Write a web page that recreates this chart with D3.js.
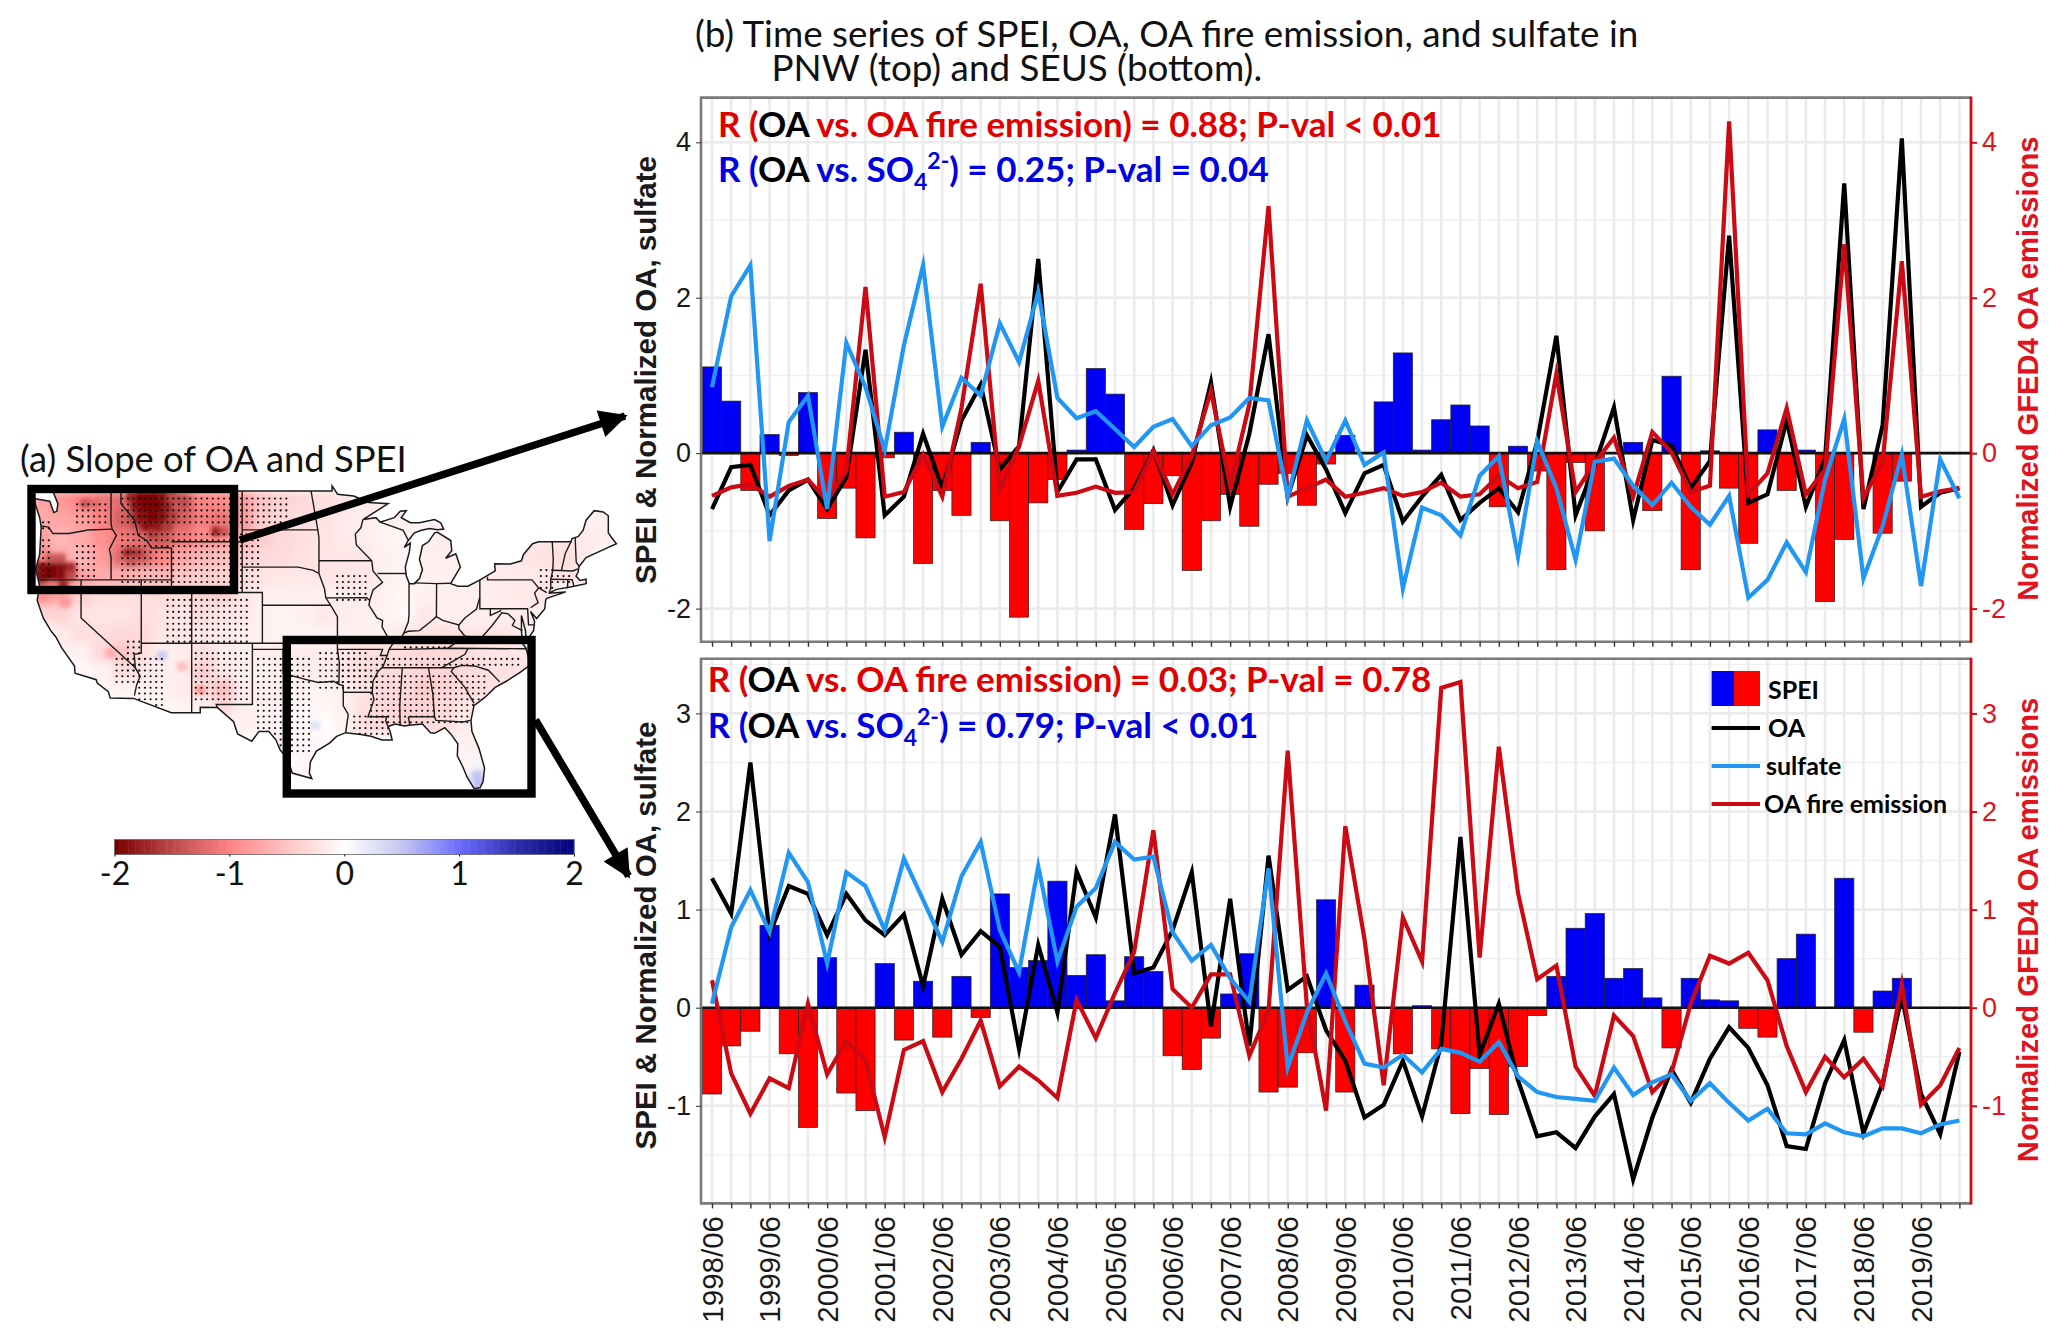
<!DOCTYPE html>
<html>
<head>
<meta charset="utf-8">
<script src="https://cdn.jsdelivr.net/npm/d3@7"></script>
<style>
	html, body { margin: 0; padding: 0; background: #fff; }
	svg { display: block; }
	.calibri { font-family: Lato, 'Open Sans', sans-serif; }
	.arial { font-family: 'Liberation Sans', Arial, sans-serif; }
</style>
</head>
<body>
<svg id="chart" width="2067" height="1336"></svg>
<script>
const yearLabels = ['1998/06', '1999/06', '2000/06', '2001/06', '2002/06', '2003/06', '2004/06', '2005/06', '2006/06', '2007/06', '2008/06', '2009/06', '2010/06', '2011/06', '2012/06', '2013/06', '2014/06', '2015/06', '2016/06', '2017/06', '2018/06', '2019/06'];

// Pacific Northwest panel
const pnwSpei = [1.11, 0.67, -0.48, 0.24, -0.03, 0.78, -0.84, -0.45, -1.09, -0.06, 0.27, -1.42, -0.48, -0.8, 0.14, -0.87, -2.11, -0.64, -0.34, 0.04, 1.09, 0.76, -0.98, -0.65, -0.29, -1.51, -0.87, -0.53, -0.94, -0.4, -0.26, -0.67, -0.14, 0.23, 0, 0.66, 1.29, 0.04, 0.43, 0.62, 0.35, -0.69, 0.09, -0.23, -1.5, -0.12, -1, 0, 0.14, -0.74, 0.99, -1.5, 0.03, -0.45, -1.16, 0.3, -0.48, 0.04, -1.91, -1.11, 0, -1.03, -0.36, 0, 0, 0];
const pnwOa = [-0.72, -0.18, -0.15, -0.8, -0.48, -0.34, -0.72, -0.31, 1.33, -0.8, -0.56, 0.25, -0.45, 0.42, 0.88, -0.21, 0.09, 2.5, -0.5, -0.08, -0.08, -0.73, -0.45, 0.04, -0.67, -0.12, 0.91, -0.69, 0.25, 1.53, -0.56, 0.23, -0.21, -0.77, -0.26, -0.15, -0.88, -0.56, -0.28, -0.86, -0.64, -0.45, -0.76, 0.15, 1.51, -0.8, -0.15, 0.59, -0.86, 0.17, 0.1, -0.45, -0.1, 2.8, -0.64, -0.53, 0.42, -0.69, -0.07, 3.47, -0.72, 0.36, 4.05, -0.69, -0.51, -0.45];
const pnwFire = [-0.55, -0.44, -0.4, -0.56, -0.42, -0.34, -0.61, -0.23, 2.14, -0.56, -0.5, -0.02, -0.56, 0.58, 2.18, -0.48, 0.09, 0.93, -0.55, -0.51, -0.43, -0.51, -0.5, 0.03, -0.53, -0.04, 0.8, -0.42, 0.63, 3.18, -0.56, -0.45, -0.34, -0.56, -0.51, -0.45, -0.55, -0.5, -0.38, -0.56, -0.53, -0.29, -0.45, -0.37, 1.02, -0.5, -0.12, 0.2, -0.56, 0.27, 0.01, -0.5, -0.42, 4.27, -0.53, -0.26, 0.58, -0.53, -0.21, 2.69, -0.58, -0.12, 2.47, -0.56, -0.49, -0.45];
const pnwSulfate = [0.85, 2.02, 2.42, -1.13, 0.4, 0.74, -0.72, 1.42, 0.85, 0.04, 1.39, 2.42, 0.34, 0.97, 0.74, 1.67, 1.17, 2.07, 0.71, 0.45, 0.54, 0.31, 0.08, 0.34, 0.44, 0.09, 0.36, 0.46, 0.71, 0.68, -0.56, 0.42, -0.1, 0.42, -0.15, 0.01, -1.74, -0.7, -0.8, -1.06, -0.29, -0.04, -1.33, 0.15, -0.45, -1.37, -0.11, -0.07, -0.42, -0.67, -0.38, -0.69, -0.92, -0.55, -1.86, -1.63, -1.15, -1.53, -0.34, 0.44, -1.61, -0.94, -0.02, -1.71, -0.08, -0.58];

// Southeast US panel
const seusSpei = [-0.88, -0.39, -0.24, 0.84, -0.47, -1.22, 0.51, -0.87, -1.05, 0.45, -0.33, 0.27, -0.3, 0.32, -0.1, 1.16, 0.41, 0.48, 1.29, 0.33, 0.54, 0.07, 0.52, 0.37, -0.49, -0.63, -0.31, 0.14, 0.55, -0.86, -0.81, -0.46, 1.1, -0.86, 0.23, 0, -0.47, 0.02, -0.42, -1.08, -0.62, -1.09, -0.6, -0.08, 0.32, 0.81, 0.96, 0.3, 0.4, 0.1, -0.41, 0.3, 0.08, 0.07, -0.21, -0.3, 0.5, 0.75, 0, 1.32, -0.25, 0.17, 0.3, 0, 0, 0];
const seusOa = [1.32, 0.96, 2.5, 0.75, 1.24, 1.16, 0.74, 1.16, 0.89, 0.74, 0.95, 0.22, 1.11, 0.54, 0.78, 0.62, -0.42, 0.64, -0.05, 1.39, 0.92, 1.97, 0.35, 0.41, 0.79, 1.38, -0.19, 1.11, -0.39, 1.55, 0.18, 0.32, -0.23, -0.54, -1.12, -0.99, -0.54, -1.11, -0.37, 1.74, -0.48, 0.04, -0.74, -1.31, -1.27, -1.43, -1.11, -0.88, -1.75, -1.12, -0.63, -0.97, -0.52, -0.2, -0.41, -0.79, -1.41, -1.44, -0.77, -0.33, -1.28, -0.77, 0.12, -0.88, -1.29, -0.45];
const seusFire = [0.28, -0.67, -1.08, -0.72, -0.82, 0.04, -0.68, -0.34, -0.54, -1.32, -0.43, -0.34, -0.86, -0.52, -0.13, -0.8, -0.6, -0.74, -0.92, 0.08, -0.31, 0.15, 0.57, 1.81, 0.19, 0, 0.34, 0.34, -0.49, -0.03, 2.62, 0.01, -1.05, 1.85, 0.7, -0.79, 0.92, 0.47, 3.26, 3.32, 0.51, 2.66, 1.17, 0.29, 0.43, -0.6, -0.9, -0.08, -0.29, -0.86, -0.66, 0.04, 0.53, 0.45, 0.56, 0.28, -0.39, -0.86, -0.5, -0.71, -0.52, -0.8, 0.24, -0.99, -0.79, -0.41];
const seusSulfate = [0.04, 0.82, 1.2, 0.77, 1.58, 1.28, 0.45, 1.38, 1.24, 0.79, 1.52, 1.1, 0.67, 1.34, 1.69, 0.79, 0.36, 1.44, 0.47, 1.03, 1.22, 1.69, 1.51, 1.54, 0.77, 0.48, 0.64, 0.3, 0.06, 1.42, -0.61, -0.05, 0.35, -0.14, -0.57, -0.61, -0.48, -0.66, -0.42, -0.46, -0.55, -0.35, -0.7, -0.86, -0.91, -0.93, -0.95, -0.61, -0.89, -0.76, -0.68, -0.95, -0.77, -0.97, -1.15, -1.03, -1.28, -1.29, -1.18, -1.27, -1.31, -1.23, -1.23, -1.28, -1.19, -1.15];

// Map: slope on a coarse lon/lat grid, north to south, west to east
const slopeLons = d3.range(-124, -66, 2);
const slopeLats = [48.25, 46.75, 45.25, 43.75, 42.25, 40.75, 39.25, 37.75, 36.25, 34.75, 33.25, 31.75, 30.25, 28.75, 27.25, 25.75];
const slopeRows = [
	[-0.75, -0.85, -1, -1.1, -1.2, -1.8, -1.85, -1.5, -1, -0.95, -0.8, -0.5, -0.38, -0.32, -0.28, -0.22, -0.18, -0.14, -0.14, -0.14, -0.14, -0.14, -0.14, -0.14, -0.14, -0.14, -0.14, -0.14, -0.14],
	[-0.7, -0.75, -0.8, -1, -1.3, -1.7, -1.75, -1.3, -1.05, -1.15, -0.85, -0.42, -0.32, -0.28, -0.24, -0.18, -0.15, -0.13, -0.13, -0.1, -0.12, -0.13, -0.13, -0.13, -0.13, -0.13, -0.13, -0.13, -0.14],
	[-0.8, -0.6, -0.7, -0.9, -1.1, -1.2, -1.4, -1.1, -0.95, -0.9, -0.65, -0.42, -0.32, -0.27, -0.22, -0.18, -0.14, -0.1, -0.07, -0.12, -0.17, -0.13, -0.13, -0.17, -0.2, -0.22, -0.22, -0.17, -0.14],
	[-1, -0.7, -0.6, -0.8, -1.25, -1.35, -1, -0.75, -0.6, -0.55, -0.42, -0.32, -0.3, -0.25, -0.22, -0.22, -0.2, -0.12, -0.1, -0.14, -0.14, -0.14, -0.17, -0.2, -0.22, -0.24, -0.27, -0.17, 0],
	[-1.6, -1.25, -0.8, -0.7, -0.7, -0.6, -0.6, -0.5, -0.42, -0.38, -0.32, -0.22, -0.2, -0.2, -0.22, -0.24, -0.22, -0.12, -0.1, -0.12, -0.12, -0.12, -0.17, -0.17, -0.17, -0.22, -0.24, -0.17, 0],
	[-0.9, -0.75, -0.4, -0.28, -0.28, -0.28, -0.3, -0.28, -0.35, -0.38, -0.22, -0.14, -0.12, -0.14, -0.12, -0.14, -0.17, -0.12, -0.07, -0.12, -0.14, -0.14, -0.14, -0.17, -0.2, -0.22, 0, 0, 0],
	[-0.35, -0.38, -0.24, -0.22, -0.22, -0.28, -0.25, -0.22, -0.28, -0.22, -0.2, -0.12, -0.1, -0.12, -0.2, -0.17, -0.12, -0.12, -0.05, -0.2, -0.12, -0.14, -0.14, -0.14, -0.17, -0.12, 0, 0, 0],
	[0, -0.18, -0.28, -0.28, -0.32, -0.32, -0.22, -0.2, -0.2, -0.17, -0.14, -0.12, -0.1, -0.1, -0.1, -0.12, -0.12, -0.12, -0.2, -0.22, -0.27, -0.22, -0.22, -0.22, -0.17, 0, 0, 0, 0],
	[0, -0.1, -0.12, -0.32, -0.5, -0.28, -0.14, -0.17, -0.28, -0.17, -0.14, -0.14, -0.17, -0.17, -0.17, -0.2, -0.27, -0.27, -0.3, -0.32, -0.32, -0.3, -0.22, -0.22, -0.22, 0, 0, 0, 0],
	[0, 0, -0.07, -0.12, -0.27, -0.22, -0.14, -0.14, -0.42, -0.2, -0.14, -0.12, -0.14, -0.14, -0.17, -0.22, -0.3, -0.32, -0.3, -0.37, -0.37, -0.32, -0.27, -0.27, -0.22, 0, 0, 0, 0],
	[0, 0, 0, -0.07, -0.12, -0.12, -0.12, -0.17, -0.27, -0.55, -0.17, -0.14, -0.12, -0.1, -0.1, -0.14, -0.24, -0.32, -0.32, -0.44, -0.37, -0.3, -0.27, -0.22, 0, 0, 0, 0, 0],
	[0, 0, 0, 0, 0, 0, -0.07, -0.1, -0.12, -0.32, -0.14, -0.12, -0.12, -0.07, -0.07, -0.12, -0.27, -0.32, -0.37, -0.37, -0.32, -0.22, -0.12, 0, 0, 0, 0, 0, 0],
	[0, 0, 0, 0, 0, 0, 0, 0, 0, 0, -0.12, -0.12, -0.1, -0.05, -0.02, -0.12, -0.27, -0.32, -0.37, -0.32, -0.27, -0.17, -0.07, 0, 0, 0, 0, 0, 0],
	[0, 0, 0, 0, 0, 0, 0, 0, 0, 0, 0, 0, -0.14, -0.07, -0.07, 0, 0, 0, 0, 0, 0, -0.12, -0.1, 0, 0, 0, 0, 0, 0],
	[0, 0, 0, 0, 0, 0, 0, 0, 0, 0, 0, 0, 0, -0.07, 0, 0, 0, 0, 0, 0, 0, -0.1, 0.1, 0, 0, 0, 0, 0, 0],
	[0, 0, 0, 0, 0, 0, 0, 0, 0, 0, 0, 0, 0, -0.07, 0, 0, 0, 0, 0, 0, 0, 0.2, 0.3, 0, 0, 0, 0, 0, 0],
];
// finer cells where the map has sharp hot spots: lon, lat, slope
const slopeSpots = [
	[-124, 43, -1.95], [-123, 43, -2], [-122, 43, -1.95], [-121, 43, -1.7], [-124, 42.3, -1.95], [-123, 42.3, -2], [-122, 42.3, -1.9], [-121, 42.3, -1.5],
	[-123, 43.7, -1.4], [-122, 43.7, -1.4], [-121.8, 41.5, -1.8], [-122.8, 41.5, -1.1], [-121.6, 40.2, -0.85], [-119.6, 48, -1.4], [-118.6, 48, -1.2],
	[-115, 48.5, -1.8], [-114, 48.5, -2], [-113, 48.5, -2], [-112, 48.5, -1.9], [-111, 48.5, -1.5],
	[-114.5, 47.8, -1.9], [-113.5, 47.8, -2], [-112.5, 47.8, -2], [-111.5, 47.8, -1.8], [-110.5, 47.8, -1.4],
	[-114, 47, -1.9], [-113, 47, -2], [-112, 47, -1.95], [-111, 47, -1.6], [-113.5, 46.2, -1.9], [-112.5, 46.2, -1.85], [-111.5, 46.2, -1.6], [-113, 45.6, -1.6],
	[-115.3, 44.1, -1.8], [-114.4, 44.1, -1.6], [-115, 43.5, -1.4], [-106.6, 45.8, -1.8], [-105.8, 45.8, -1.4],
	[-117.1, 36.2, -0.7], [-110, 35.1, -0.55], [-108.2, 33.2, -0.85],
	[-112, 36, 0.45], [-96.8, 30.3, 0.25], [-80.8, 26.2, 0.5], [-80.6, 25.5, 0.55],
];
// boxes of significant slope: lon min, lon max, lat min, lat max
const stippleBoxes = [
	[-116, -98.6, 46.4, 49], [-116, -101.7, 41, 46.4], [-124.2, -122.6, 42, 46], [-120.5, -118, 42.2, 45.5], [-124, -122.2, 46, 47], [-120.5, -117, 46.5, 48.8],
	[-112, -103, 36.9, 41], [-115.5, -113.5, 34.5, 38], [-116.5, -114, 33.5, 36.5], [-114.5, -111.2, 31.5, 36.5], [-109, -103, 32, 37], [-103, -96.5, 28, 36.6],
	[-96.5, -91, 33, 37], [-94.6, -90, 33, 36.5], [-91, -76, 34.8, 36.6], [-91.5, -79, 30.3, 35], [-93.5, -89, 29.5, 31.5], [-88, -83, 36.6, 37.4],
	[-95, -91, 40.3, 43], [-74.5, -72.5, 41, 43.5], [-73, -70.8, 41.5, 43],
];

const usOutline = [[-124.7, 48.4], [-123.1, 48.2], [-122.7, 47.3], [-122.4, 47.4], [-122.3, 48], [-122.8, 49], [-95.15, 49], [-95.15, 49.4], [-94.6, 48.75], [-93, 48.6], [-91.5, 48.1], [-89.6, 48], [-92.1, 46.75], [-90.8, 46.9], [-90.4, 46.55], [-89, 46.9], [-88.4, 47.4], [-87.8, 47.45], [-88.3, 46.9], [-87.4, 46.5], [-86.5, 46.5], [-85, 46.75], [-84.4, 46.5], [-84.1, 46], [-84.7, 45.95], [-85.5, 46.05], [-86.3, 45.9], [-87, 45.7], [-87.6, 45.1], [-88, 44.55], [-87.4, 44.9], [-87.5, 44.2], [-87.9, 43], [-87.8, 42.3], [-87.5, 41.7], [-87, 41.7], [-86.5, 42.1], [-86.2, 42.8], [-86.5, 43.6], [-86.2, 44.7], [-85.6, 45], [-85, 45.7], [-84.7, 45.75], [-83.4, 45.1], [-83.3, 44.3], [-83.9, 43.7], [-82.9, 44.05], [-82.45, 43], [-82.9, 42.4], [-83.2, 42], [-83.4, 41.7], [-82.7, 41.5], [-81.7, 41.5], [-80.5, 42], [-79, 42.7], [-79.05, 43.27], [-77.5, 43.25], [-76.4, 43.5], [-76.2, 44], [-75.3, 44.85], [-74.7, 45], [-71.5, 45], [-71.4, 45.25], [-70.8, 45.4], [-70.3, 45.9], [-70, 46.7], [-69.2, 47.45], [-68.3, 47.35], [-67.8, 47.05], [-67.8, 45.7], [-67.45, 45.3], [-67, 44.85], [-68.5, 44.3], [-70, 43.75], [-70.7, 43.05], [-70.8, 42.6], [-71, 42.3], [-70.6, 41.95], [-70, 42.05], [-70, 41.7], [-71.2, 41.5], [-72.9, 41.25], [-73.7, 40.95], [-72, 41.05], [-73.9, 40.55], [-74, 40.4], [-74.1, 39.7], [-74.9, 38.95], [-75.5, 39.5], [-75.1, 38.75], [-75.2, 38], [-75.95, 37.15], [-76, 38], [-76.4, 39.2], [-76.4, 38], [-76.3, 37], [-75.95, 36.6], [-75.5, 35.25], [-76.5, 34.65], [-77.9, 33.9], [-79, 33.4], [-80, 32.6], [-81.1, 31.9], [-81.4, 30.7], [-81.3, 29.8], [-80.6, 28.4], [-80.05, 26.8], [-80.2, 25.7], [-80.5, 25.2], [-81.1, 25.15], [-81.8, 26.1], [-82.2, 26.9], [-82.75, 27.8], [-82.7, 28.8], [-83.4, 29.6], [-84, 30.1], [-85, 29.65], [-85.4, 29.7], [-86.2, 30.4], [-87.5, 30.3], [-88, 30.25], [-88.9, 30.4], [-89.6, 30.2], [-89.4, 29.8], [-89.2, 29.1], [-90.2, 29.1], [-91.3, 29.4], [-92.3, 29.55], [-93.8, 29.7], [-94.7, 29.4], [-95.4, 28.85], [-96.7, 28.2], [-97.3, 27.3], [-97.4, 26.4], [-97.15, 25.95], [-99.1, 26.4], [-99.5, 27.5], [-100.3, 28.3], [-100.7, 29.1], [-101.4, 29.8], [-102.4, 29.8], [-103.1, 29], [-104.5, 29.6], [-104.9, 30.6], [-106.5, 31.75], [-108.2, 31.78], [-108.2, 31.33], [-111.07, 31.33], [-114.8, 32.5], [-117.12, 32.53], [-117.3, 33.05], [-118.4, 33.75], [-118.5, 34.03], [-120.6, 34.55], [-120.65, 35.15], [-121.9, 36.6], [-122.5, 37.5], [-123, 38], [-123.75, 39], [-124.35, 40.4], [-124.1, 41.5], [-124.5, 42.85], [-124.1, 44], [-123.95, 46.2], [-124.1, 46.9], [-124.7, 48.4]];

const stateLines = [
	[[-124, 46.25], [-123.2, 46.15], [-122.8, 45.65], [-121.2, 45.65], [-119.3, 45.93], [-116.92, 46]],
	[[-117.03, 49], [-117.04, 46.42], [-116.92, 46], [-116.5, 45.5], [-117.2, 44.4], [-117.03, 43.8], [-117.03, 42]],
	[[-124.2, 42], [-111.05, 42]],
	[[-120, 42], [-120, 39], [-114.63, 35], [-114.15, 34.3], [-114.5, 33.6], [-114.72, 32.72]],
	[[-114.04, 42], [-114.04, 36.2], [-114.74, 36.1], [-114.63, 35]],
	[[-114.04, 37], [-94.62, 37]],
	[[-116.05, 49], [-116.05, 48], [-114.7, 46.7], [-114.35, 45.5], [-113.5, 45.1], [-113, 44.5], [-111.5, 44.55], [-111.05, 44.48], [-111.05, 41]],
	[[-111.05, 45], [-104.05, 45]],
	[[-104.05, 49], [-104.05, 41]],
	[[-111.05, 41], [-102.05, 41], [-102.05, 37]],
	[[-109.05, 41], [-109.05, 31.33]],
	[[-104.05, 45.94], [-96.56, 45.94]],
	[[-104.05, 43], [-98.5, 43], [-97, 42.75], [-96.45, 42.5], [-95.9, 41.3], [-95.77, 40.58], [-95.3, 40], [-94.62, 39.1], [-94.62, 36.5], [-94.43, 35.4], [-94.48, 33.64], [-94.04, 33.55], [-94.04, 31.9], [-93.55, 31.2], [-93.8, 29.7]],
	[[-102.05, 40], [-95.3, 40]],
	[[-103.04, 37], [-103.04, 32], [-106.62, 32], [-106.5, 31.75]],
	[[-103.04, 36.5], [-100, 36.5], [-100, 34.56], [-98, 34.1], [-96.5, 33.8], [-95, 33.9], [-94.48, 33.64]],
	[[-94.04, 33], [-91.17, 33]],
	[[-94.62, 36.5], [-90.15, 36.5], [-90.37, 36], [-89.7, 36]],
	[[-95.77, 40.58], [-91.73, 40.6], [-91.42, 40.38]],
	[[-96.45, 43.5], [-91.22, 43.5]],
	[[-97.23, 49], [-96.56, 45.94], [-96.45, 45.3], [-96.45, 42.5]],
	[[-92.1, 46.75], [-92.3, 46.1], [-92.85, 45.6], [-92.75, 44.75], [-91.22, 43.5], [-91.1, 42.7], [-90.15, 41.8], [-91.1, 41.2], [-91.42, 40.38], [-91.5, 40], [-90.7, 39], [-90.15, 38.8], [-90.2, 38.3], [-89.5, 37.3], [-89.13, 36.98], [-89.5, 36.5], [-89.7, 36], [-90.1, 35.1], [-90.6, 34.7], [-91.1, 33.9], [-91.17, 33], [-91, 32.4], [-91.6, 31], [-89.73, 31], [-89.85, 30.65], [-89.6, 30.2]],
	[[-90.65, 42.5], [-87.8, 42.5]],
	[[-90.4, 46.55], [-88.1, 45.9], [-87.6, 45.1]],
	[[-87.53, 41.7], [-87.53, 39.3], [-87.6, 38.7], [-88.05, 37.8]],
	[[-84.82, 39.1], [-85.4, 38.7], [-86.5, 38], [-87.6, 37.95], [-88.05, 37.8], [-88.5, 37.1], [-89.13, 36.98]],
	[[-84.8, 41.7], [-84.82, 39.1], [-84.2, 38.8], [-82.6, 38.45], [-82, 39], [-80.85, 39.7], [-80.52, 40.64]],
	[[-87, 41.76], [-84.8, 41.7], [-83.4, 41.73]],
	[[-80.52, 42], [-80.52, 39.72], [-75.79, 39.72], [-75.7, 38.46], [-75.05, 38.45]],
	[[-79.76, 42.25], [-79.76, 42], [-75.35, 42], [-74.7, 41.36], [-75.1, 40.95], [-74.75, 40.2], [-75.5, 39.8]],
	[[-74.7, 41.36], [-73.9, 41]],
	[[-89.5, 36.5], [-88.05, 36.5], [-83.68, 36.6], [-75.9, 36.55]],
	[[-83.68, 36.6], [-81.97, 37.54], [-82.6, 38.15], [-82.6, 38.45]],
	[[-81.97, 37.54], [-80.3, 37.5], [-79.3, 38.4], [-78.35, 39.4], [-77.72, 39.32], [-77.05, 38.8], [-77.3, 38.4], [-76.3, 38]],
	[[-79.48, 39.72], [-79.48, 39.2], [-78.4, 39.6]],
	[[-81.68, 36.59], [-82, 36.1], [-84.32, 35]],
	[[-90.3, 35], [-83.1, 35], [-82.3, 35.2], [-81.05, 35.15], [-79.68, 34.8], [-78.55, 33.85]],
	[[-83.1, 35], [-83.35, 34.7], [-82, 33.4], [-81.1, 32.1]],
	[[-85.6, 35], [-85.18, 32.87], [-85, 31], [-84.86, 30.7], [-82.2, 30.57], [-81.45, 30.7]],
	[[-87.6, 31], [-85, 31]],
	[[-87.6, 31], [-87.45, 30.3]],
	[[-88.2, 35], [-88.45, 31.9], [-88.4, 30.25]],
	[[-73.35, 45], [-73.25, 43.6], [-73.3, 42.75], [-73.5, 42.05], [-73.5, 41.3], [-73.65, 41]],
	[[-71.5, 45], [-72.05, 44.1], [-72.45, 42.73]],
	[[-71.08, 45.3], [-70.98, 43.4], [-70.7, 43.07]],
	[[-73.3, 42.75], [-71.3, 42.7], [-70.82, 42.87]],
	[[-73.5, 42.05], [-71.38, 42.02], [-71.2, 41.5]],
	[[-71.8, 42.02], [-71.85, 41.32]],
];

const colorbarTicks = [-2, -1, 0, 1, 2];
const slopeStops = [-2, -1.5, -1, -0.5, 0, 0.5, 1, 1.5, 2];
const slopeColors = ['#7a0000', '#bd4a4a', '#ff8484', '#ffc4c4', '#ffffff', '#c4c4f0', '#6a6cff', '#2d2da8', '#000078'];

const legendLines = [
	{ label: 'OA', color: '#000000' },
	{ label: 'sulfate', color: '#2196f3' },
	{ label: 'OA fire emission', color: '#cc0a14' },
];

const svg = d3.select('#chart');
const indices = d3.range(pnwOa.length);

const x = d3.scaleLinear().domain([0, pnwOa.length - 1]).range([712, 1959.4]);
const barWidth = x(1) - x(0);
const panelLeft = 701;
const panelRight = 1971;

function drawPanel(cfg) {
	const g = svg.append('g');
	const y = d3.scaleLinear().domain(cfg.domain).range(cfg.range);
	const ticks = d3.range(cfg.ticks[0], cfg.ticks[1] + 1, cfg.step);
	const minorTicks = d3.range(cfg.ticks[0] - cfg.step / 2, cfg.ticks[1] + cfg.step, cfg.step);

	g.append('rect')
		.attr('x', panelLeft).attr('y', cfg.top)
		.attr('width', panelRight - panelLeft).attr('height', cfg.bottom - cfg.top)
		.attr('fill', '#fff');

	g.selectAll('.minor').data(minorTicks.filter((d) => y(d) > cfg.top && y(d) < cfg.bottom)).join('line')
		.attr('x1', panelLeft).attr('x2', panelRight)
		.attr('y1', (d) => y(d)).attr('y2', (d) => y(d))
		.attr('stroke', '#f0f0f0').attr('stroke-width', 1.4);
	g.selectAll('.major').data(ticks).join('line')
		.attr('x1', panelLeft).attr('x2', panelRight)
		.attr('y1', (d) => y(d)).attr('y2', (d) => y(d))
		.attr('stroke', '#ebebeb').attr('stroke-width', 2.6);
	g.selectAll('.vgrid').data(indices).join('line')
		.attr('x1', (d) => x(d)).attr('x2', (d) => x(d))
		.attr('y1', cfg.top).attr('y2', cfg.bottom)
		.attr('stroke', '#ebebeb').attr('stroke-width', 2.6);

	g.selectAll('.bar').data(cfg.spei.map((v, i) => ({ v, i })).filter((d) => d.v !== 0)).join('rect')
		.attr('x', (d) => x(d.i) - barWidth / 2)
		.attr('width', barWidth)
		.attr('y', (d) => Math.min(y(d.v), y(0)))
		.attr('height', (d) => Math.abs(y(d.v) - y(0)))
		.attr('fill', (d) => (d.v > 0 ? '#0000f5' : '#ff0000'))
		.attr('stroke', '#222').attr('stroke-width', 0.7);

	g.append('line')
		.attr('x1', panelLeft).attr('x2', panelRight)
		.attr('y1', y(0)).attr('y2', y(0))
		.attr('stroke', '#111').attr('stroke-width', 2.6);

	const line = d3.line().x((d, i) => x(i)).y((d) => y(d));
	const series = [[cfg.oa, '#000000'], [cfg.fire, '#cc0a14'], [cfg.sulfate, '#2196f3']];
	series.forEach(([values, color]) => {
		g.append('path').attr('d', line(values))
			.attr('fill', 'none').attr('stroke', color)
			.attr('stroke-width', 4.2).attr('stroke-linejoin', 'miter').attr('stroke-miterlimit', 6);
	});

	// left, top and bottom frame
	g.append('path')
		.attr('d', `M${panelRight},${cfg.top}H${panelLeft}V${cfg.bottom}H${panelRight}`)
		.attr('fill', 'none').attr('stroke', '#7a7a7a').attr('stroke-width', 2.6);

	const axisL = g.append('g').attr('class', 'arial')
		.attr('transform', `translate(${panelLeft},0)`)
		.call(d3.axisLeft(y).tickValues(ticks).tickFormat((d) => String(d)).tickSize(5).tickPadding(5));
	axisL.select('.domain').remove();
	axisL.selectAll('text').style('font-size', '27px').attr('fill', '#1a1a1a');
	axisL.selectAll('line').attr('stroke', '#333');

	const axisR = g.append('g').attr('class', 'arial')
		.attr('transform', `translate(${panelRight},0)`)
		.call(d3.axisRight(y).tickValues(ticks).tickFormat((d) => String(d)).tickSize(6).tickPadding(5));
	axisR.select('.domain').remove();
	axisR.selectAll('text').style('font-size', '27px').attr('fill', '#e0141e');
	axisR.selectAll('line').attr('stroke', '#d00a14').attr('stroke-width', 2);
	g.append('line')
		.attr('x1', panelRight).attr('x2', panelRight)
		.attr('y1', cfg.top - 1).attr('y2', cfg.bottom + 1)
		.attr('stroke', '#d00a14').attr('stroke-width', 2.8);

	const axisB = g.append('g')
		.attr('transform', `translate(0,${cfg.bottom})`)
		.call(d3.axisBottom(x).tickValues(indices).tickFormat('').tickSize(5));
	axisB.select('.domain').remove();
	axisB.selectAll('line').attr('stroke', '#333').attr('stroke-width', 1.4);

	g.append('text').attr('class', 'arial')
		.attr('transform', `translate(${645},${(cfg.labelLeft[0] + cfg.labelLeft[1]) / 2}) rotate(-90)`)
		.attr('text-anchor', 'middle').attr('dominant-baseline', 'central')
		.style('font-size', '29.5px').style('font-weight', 700).attr('fill', '#1a1a1a')
		.text('SPEI & Normalized OA, sulfate');
	g.append('text').attr('class', 'arial')
		.attr('transform', `translate(${2028},${(cfg.labelRight[0] + cfg.labelRight[1]) / 2}) rotate(-90)`)
		.attr('text-anchor', 'middle').attr('dominant-baseline', 'central')
		.style('font-size', '29.2px').style('font-weight', 700).attr('fill', '#e0141e')
		.text('Normalized GFED4 OA emissions');

	drawStats(g, cfg.statsX, cfg.statsY[0], '#e00000', [
		['R (', 0], ['OA', 1], [' vs. OA fire emission) = ' + cfg.fireStats, 0],
	]);
	drawStats(g, cfg.statsX, cfg.statsY[1], '#0000e0', [
		['R (', 0], ['OA', 1], [' vs. SO', 0], ['4', 2], ['2-', 3], [') = ' + cfg.sulfateStats, 0],
	]);
}

// kind: 0 plain, 1 black, 2 subscript, 3 superscript
function drawStats(g, xPos, yPos, color, parts) {
	const t = g.append('text').attr('class', 'calibri')
		.attr('x', xPos).attr('y', yPos)
		.style('font-size', '35px').style('font-weight', 700).attr('fill', color);
	let shift = 0;
	parts.forEach(([txt, kind]) => {
		const target = kind === 2 ? 8 : kind === 3 ? -13 : 0;
		t.append('tspan')
			.attr('dy', target - shift)
			.attr('fill', kind === 1 ? '#000' : color)
			.style('font-size', kind >= 2 ? '23px' : null)
			.style('white-space', 'pre')
			.attr('xml:space', 'preserve')
			.text(txt);
		shift = target;
	});
}

drawPanel({
	domain: [-2, 4], range: [608.6, 142.3], ticks: [-2, 4], step: 2, top: 97.6, bottom: 641.8,
	spei: pnwSpei, oa: pnwOa, fire: pnwFire, sulfate: pnwSulfate,
	labelLeft: [157, 583], labelRight: [135.5, 601.8],
	statsX: 718, statsY: [136.8, 181.8], fireStats: '0.88; P-val < 0.01', sulfateStats: '0.25; P-val = 0.04',
});

drawPanel({
	domain: [-1, 3], range: [1105.8, 713.4], ticks: [-1, 3], step: 1, top: 658.7, bottom: 1203.4,
	spei: seusSpei, oa: seusOa, fire: seusFire, sulfate: seusSulfate,
	labelLeft: [722, 1149], labelRight: [696, 1164],
	statsX: 707.7, statsY: [691.6, 737.5], fireStats: '0.03; P-val = 0.78', sulfateStats: '0.79; P-val < 0.01',
});

// x tick labels under the lower panel
svg.append('g').attr('class', 'arial').selectAll('text').data(yearLabels).join('text')
	.attr('transform', (d, i) => `translate(${x(i * 3)},1216) rotate(-90)`)
	.attr('text-anchor', 'end').attr('dominant-baseline', 'central')
	.style('font-size', '29.5px').attr('fill', '#1a1a1a')
	.text((d) => d);

// legend
const legend = svg.append('g').attr('class', 'calibri');
legend.append('rect').attr('x', 1711.6).attr('y', 671).attr('width', 22.4).attr('height', 35).attr('fill', '#0000f5');
legend.append('rect').attr('x', 1734).attr('y', 671).attr('width', 26).attr('height', 35).attr('fill', '#ff0000');
legend.append('text').attr('x', 1768).attr('y', 688.5).attr('dominant-baseline', 'central')
	.style('font-size', '25px').style('font-weight', 700).text('SPEI');
const legendY = [728, 766, 804];
const legendTextX = [1768, 1766, 1764];
legend.selectAll('.legend-line').data(legendLines).join('line')
	.attr('x1', 1711.6).attr('x2', 1760)
	.attr('y1', (d, i) => legendY[i]).attr('y2', (d, i) => legendY[i])
	.attr('stroke', (d) => d.color).attr('stroke-width', 4);
legend.selectAll('.legend-text').data(legendLines).join('text')
	.attr('x', (d, i) => legendTextX[i]).attr('y', (d, i) => legendY[i] - 1)
	.attr('dominant-baseline', 'central')
	.style('font-size', '25px').style('font-weight', 700)
	.text((d) => d.label);

// titles
const titleB = svg.append('g').attr('class', 'calibri').attr('fill', '#111').style('font-size', '36.8px');
titleB.append('text').attr('x', 695).attr('y', 33).attr('dominant-baseline', 'central')
	.text('(b) Time series of SPEI, OA, OA fire emission, and sulfate in');
titleB.append('text').attr('x', 771.5).attr('y', 66.5).attr('dominant-baseline', 'central')
	.text('PNW (top) and SEUS (bottom).');
svg.append('text').attr('class', 'calibri').attr('x', 20).attr('y', 458)
	.attr('dominant-baseline', 'central').attr('fill', '#111').style('font-size', '36.4px')
	.text('(a) Slope of OA and SPEI');

// map
const lonScale = d3.scaleLinear().domain([-124.7, -67]).range([33.6, 616.4]);
const latScale = d3.scaleLinear().domain([25.1, 37, 49]).range([789, 643.3, 491]);
const slopeColor = d3.scaleLinear().domain(slopeStops).range(slopeColors);
const geoLine = d3.line().x((d) => lonScale(d[0])).y((d) => latScale(d[1]));

const defs = svg.append('defs');
defs.append('clipPath').attr('id', 'us-clip').append('path').attr('d', geoLine(usOutline));
const blur = defs.append('filter').attr('id', 'soft').attr('x', '-5%').attr('y', '-5%').attr('width', '110%').attr('height', '110%');
blur.append('feGaussianBlur').attr('stdDeviation', 4);
const blurSmall = defs.append('filter').attr('id', 'soft-small').attr('x', '-5%').attr('y', '-5%').attr('width', '110%').attr('height', '110%');
blurSmall.append('feGaussianBlur').attr('stdDeviation', 2);

const mapG = svg.append('g');
const shade = mapG.append('g').attr('clip-path', 'url(#us-clip)');
const coarseCells = slopeRows.flatMap((row, r) => row.map((v, c) => ({ lon: slopeLons[c], lat: slopeLats[r], v })));
shade.append('g').attr('filter', 'url(#soft)').selectAll('rect').data(coarseCells).join('rect')
	.attr('x', (d) => lonScale(d.lon - 1)).attr('width', lonScale(1) - lonScale(-1) + 1)
	.attr('y', (d) => latScale(d.lat + 0.75)).attr('height', latScale(0) - latScale(1.5) + 1)
	.attr('fill', (d) => slopeColor(d.v));
shade.append('g').attr('filter', 'url(#soft-small)').selectAll('rect').data(slopeSpots).join('rect')
	.attr('x', (d) => lonScale(d[0] - 0.5)).attr('width', lonScale(1) - lonScale(0))
	.attr('y', (d) => latScale(d[1] + 0.37)).attr('height', latScale(0) - latScale(0.75))
	.attr('fill', (d) => slopeColor(d[2]));

const dotLonStep = 0.56;
const dotLatStep = 0.47;
const dots = stippleBoxes.flatMap(([lon0, lon1, lat0, lat1]) =>
	d3.range(Math.ceil(lon0 / dotLonStep), Math.floor(lon1 / dotLonStep)).flatMap((a) =>
		d3.range(Math.ceil(lat0 / dotLatStep), Math.floor(lat1 / dotLatStep)).map((b) => [a * dotLonStep, b * dotLatStep])))
	.filter((d) => d3.polygonContains(usOutline, d));
mapG.append('g').selectAll('circle').data(dots).join('circle')
	.attr('cx', (d) => lonScale(d[0])).attr('cy', (d) => latScale(d[1]))
	.attr('r', 1.1).attr('fill', '#111');

mapG.append('path').attr('d', geoLine(usOutline))
	.attr('fill', 'none').attr('stroke', '#1a1a1a').attr('stroke-width', 1.5);
mapG.append('g').selectAll('path').data(stateLines).join('path')
	.attr('d', (d) => geoLine(d))
	.attr('fill', 'none').attr('stroke', '#1a1a1a').attr('stroke-width', 1.4);

// region boxes and arrows
const regionBoxes = [[31.5, 489, 202.5, 101], [286.8, 640, 244.7, 153.5]];
mapG.selectAll('.region').data(regionBoxes).join('rect')
	.attr('x', (d) => d[0]).attr('y', (d) => d[1]).attr('width', (d) => d[2]).attr('height', (d) => d[3])
	.attr('fill', 'none').attr('stroke', '#000').attr('stroke-width', 8.4);

defs.append('marker').attr('id', 'arrow-head').attr('viewBox', '0 0 10 10')
	.attr('refX', 9).attr('refY', 5).attr('markerWidth', 34).attr('markerHeight', 28)
	.attr('markerUnits', 'userSpaceOnUse').attr('orient', 'auto')
	.append('path').attr('d', 'M0,0L10,5L0,10z').attr('fill', '#000');
const arrows = [[240, 540, 625, 416], [535.5, 720, 628.5, 876]];
svg.append('g').selectAll('line').data(arrows).join('line')
	.attr('x1', (d) => d[0]).attr('y1', (d) => d[1])
	.attr('x2', (d) => d[2]).attr('y2', (d) => d[3])
	.attr('stroke', '#000').attr('stroke-width', 7.5)
	.attr('marker-end', 'url(#arrow-head)');

// colour bar
const cbX = d3.scaleLinear().domain([-2, 2]).range([114.5, 574]);
const cbSteps = d3.range(-2, 2, 0.02);
const colorbar = svg.append('g');
colorbar.selectAll('rect').data(cbSteps).join('rect')
	.attr('x', (d) => cbX(d)).attr('width', cbX(0.02) - cbX(0) + 0.5)
	.attr('y', 839.5).attr('height', 15)
	.attr('fill', (d) => slopeColor(d));
colorbar.append('rect').attr('x', 114.5).attr('y', 839.5).attr('width', 459.5).attr('height', 15)
	.attr('fill', 'none').attr('stroke', '#666').attr('stroke-width', 0.8);
const cbAxis = colorbar.append('g').attr('class', 'calibri')
	.attr('transform', 'translate(0,854.5)')
	.call(d3.axisBottom(cbX).tickValues(colorbarTicks).tickSize(2).tickPadding(6).tickFormat((d) => String(d)));
cbAxis.select('.domain').remove();
cbAxis.selectAll('text').style('font-size', '32px').attr('fill', '#111');
</script>
</body>
</html>
